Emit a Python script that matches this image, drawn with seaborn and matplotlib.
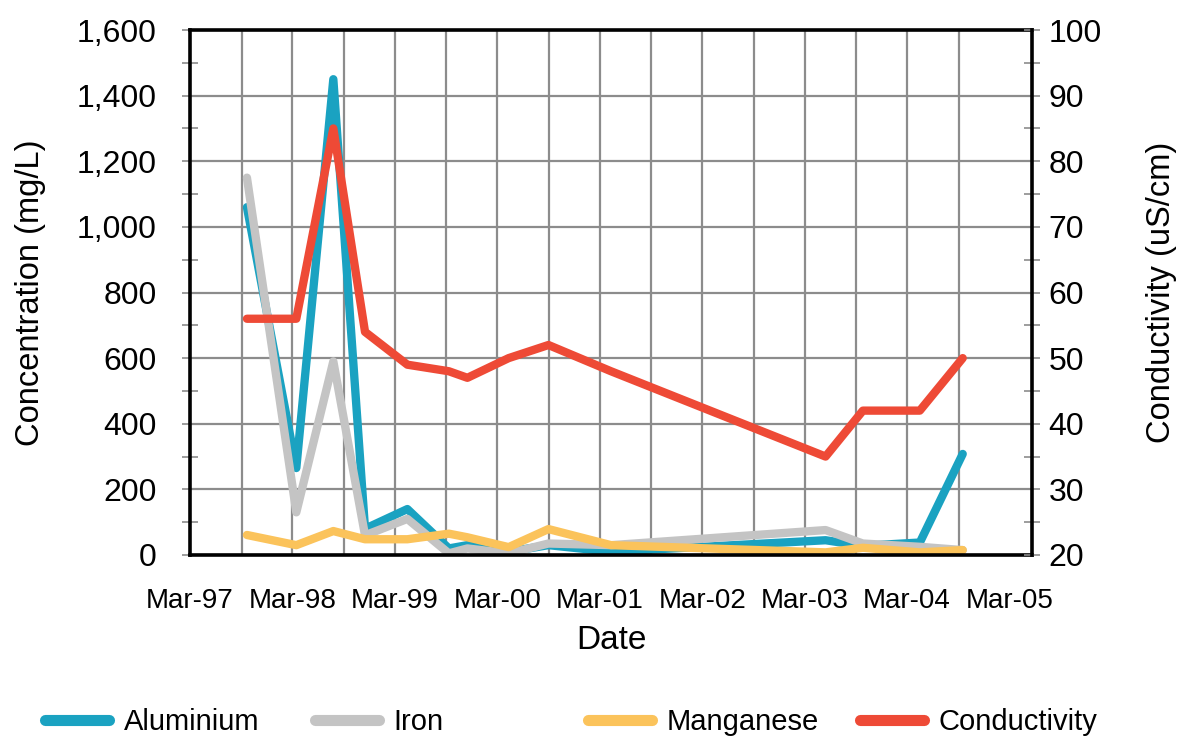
import pandas as pd
import numpy as np
import matplotlib
matplotlib.use("Agg")
import matplotlib.pyplot as plt
import matplotlib.dates as mdates
from matplotlib.lines import Line2D
from matplotlib.ticker import MultipleLocator, FuncFormatter
import seaborn as sns

# sampling dates
sample_dates = ["1997-09-20", "1998-03-15", "1998-07-25", "1998-11-15", "1999-04-15",
                "1999-09-10", "1999-11-15", "2000-04-10", "2000-08-30", "2001-04-10",
                "2003-05-15", "2003-09-25", "2004-04-15", "2004-09-15"]

aluminium = [1060, 265, 1450, 80, 140, 20, 30, 10, 30, 10, 45, 28, 38, 308]
iron = [1150, 130, 590, 60, 110, 5, 20, 5, 35, 30, 76, 35, 25, 15]
manganese = [61, 30, 73, 48, 48, 65, 54, 24, 79, 30, 8, 22, 8, 15]
conductivity = [56, 56, 85, 54, 49, 48, 47, 50, 52, 48, 35, 42, 42, 50]

series_names = ["Aluminium", "Iron", "Manganese", "Conductivity"]
series_colors = ["#1aa2c1", "#c4c4c4", "#fbc35b", "#ee4a36"]

sns.set_style("white")
plt.rcParams["font.family"] = ["Liberation Sans", "DejaVu Sans"]
plt.rcParams["text.color"] = "black"
plt.rcParams["axes.labelcolor"] = "black"

df = pd.DataFrame({
    "Date": pd.to_datetime(sample_dates),
    "Aluminium": aluminium,
    "Iron": iron,
    "Manganese": manganese,
    "Conductivity": conductivity,
})

grid_col = "#8c8c8c"
W, H = 1180, 744
fig = plt.figure(figsize=(W / 100, H / 100), dpi=100)
ax = fig.add_axes([190 / W, 1 - 555 / H, (1032 - 190) / W, (555 - 30) / H])
ax2 = ax.twinx()

line_kw = dict(linewidth=6, solid_capstyle="round", solid_joinstyle="round", legend=False)
for name, col in zip(series_names[:3], series_colors[:3]):
    sns.lineplot(data=df, x="Date", y=name, ax=ax, color=col, **line_kw)
sns.lineplot(data=df, x="Date", y="Conductivity", ax=ax2, color=series_colors[3], **line_kw)

# x axis
ax.set_xlim(pd.Timestamp("1997-03-01"), pd.Timestamp("2005-05-20"))
ax.xaxis.set_major_locator(mdates.MonthLocator(bymonth=[3]))
ax.xaxis.set_major_formatter(mdates.DateFormatter("%b-%y"))
ax.xaxis.set_minor_locator(mdates.MonthLocator(bymonth=[9]))
ax.tick_params(axis="x", which="both", direction="out", length=10, width=1.4,
               color=grid_col, labelcolor="black", labelsize=20, pad=14)
for d in pd.date_range("1997-09-01", "2004-09-01", freq="6MS"):
    ax.axvline(d, color=grid_col, lw=1.6, zorder=0)

# left axis
ax.set_ylim(0, 1600)
ax.yaxis.set_major_locator(MultipleLocator(200))
ax.yaxis.set_minor_locator(MultipleLocator(100))
ax.yaxis.set_major_formatter(FuncFormatter(lambda v, p: f"{v:,.0f}"))
ax.tick_params(axis="y", which="both", direction="inout", length=12, width=1.2,
               color=grid_col, labelcolor="black", labelsize=23, pad=18)
ax.yaxis.grid(True, which="major", color=grid_col, lw=1.6)
ax.set_axisbelow(True)

# right axis
ax2.set_ylim(20, 100)
ax2.yaxis.set_major_locator(MultipleLocator(10))
ax2.yaxis.set_minor_locator(MultipleLocator(5))
ax2.tick_params(axis="y", which="both", direction="inout", length=12, width=1.2,
                color=grid_col, labelcolor="black", labelsize=23, pad=6)

ax.set_xlabel("Date", fontsize=24, labelpad=8)
ax.set_ylabel("Concentration (mg/L)", fontsize=23.5, labelpad=22)
ax2.set_ylabel("Conductivity (uS/cm)", fontsize=23.5, labelpad=32)

for s in ["left", "bottom", "top"]:
    ax.spines[s].set_color("black")
    ax.spines[s].set_linewidth(2.6)
ax.spines["right"].set_visible(False)
for s in ["left", "bottom", "top"]:
    ax2.spines[s].set_visible(False)
ax2.spines["right"].set_color("black")
ax2.spines["right"].set_linewidth(2.6)

# legend with equal-width slots along the bottom
slot_x = [45, 315, 588, 860]
for name, col, x0 in zip(series_names, series_colors, slot_x):
    h = Line2D([], [], color=col, lw=8, solid_capstyle="round")
    fig.legend(handles=[h], labels=[name], loc="center left",
               bbox_to_anchor=(x0 / W, 1 - 722 / H), frameon=False,
               handlelength=2.2, handletextpad=0.5, borderpad=0, borderaxespad=0,
               prop={"family": ["Liberation Sans", "DejaVu Sans"], "size": 21})

fig.savefig("out.png", dpi=100)
